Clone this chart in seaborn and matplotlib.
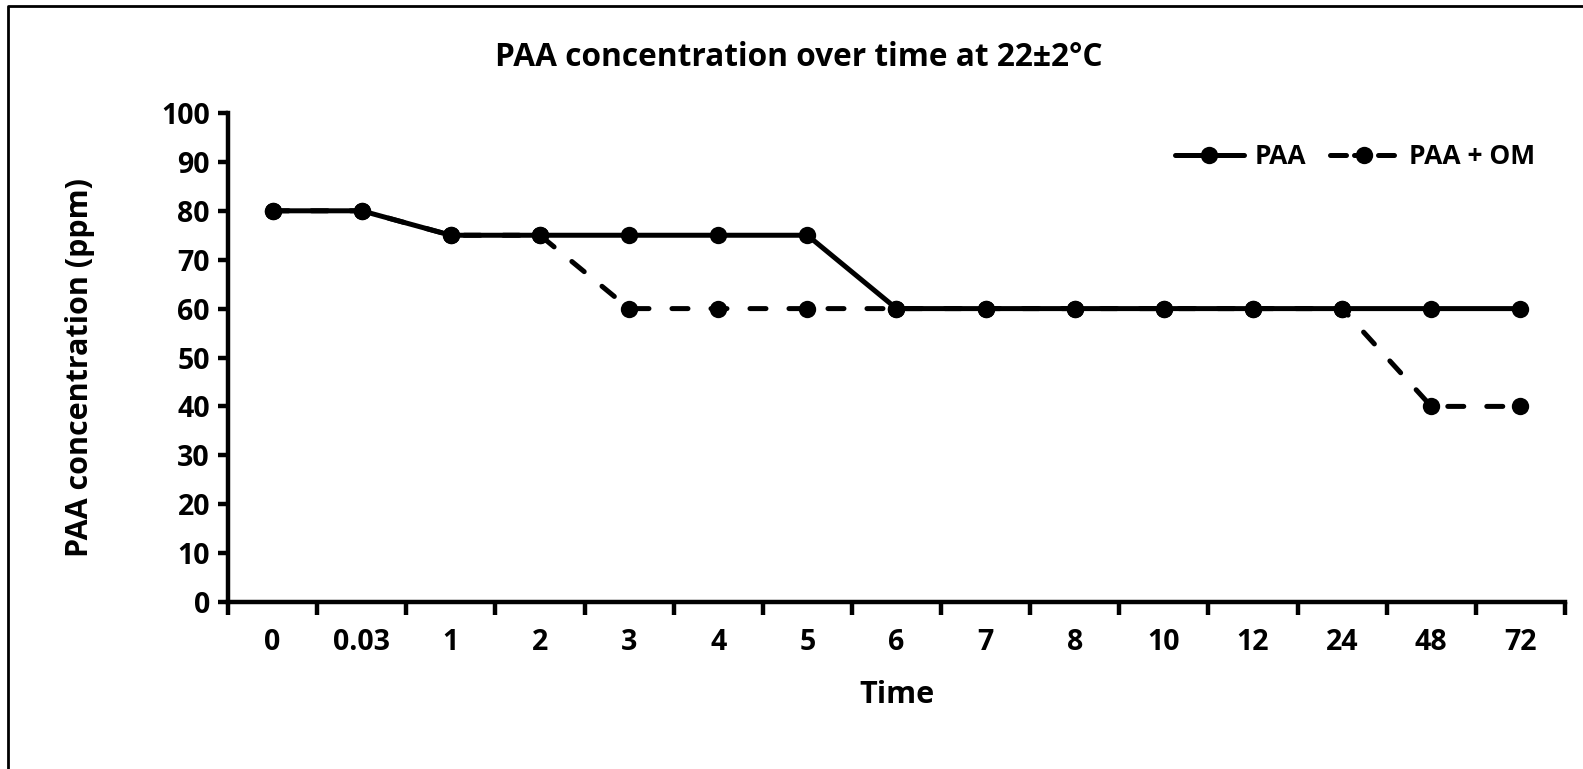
import matplotlib
matplotlib.use("Agg")
import matplotlib.pyplot as plt
from matplotlib.lines import Line2D
import pandas as pd
import seaborn as sns

# values
times = ["0", "0.03", "1", "2", "3", "4", "5", "6", "7", "8", "10", "12", "24", "48", "72"]
paa = [80, 80, 75, 75, 75, 75, 75, 60, 60, 60, 60, 60, 60, 60, 60]
paa_om = [80, 80, 75, 75, 60, 60, 60, 60, 60, 60, 60, 60, 60, 40, 40]

df = pd.DataFrame({"pos": range(len(times)), "PAA": paa, "PAA + OM": paa_om})

sns.set_style("white")
plt.rcParams["font.family"] = ["Open Sans", "DejaVu Sans"]
plt.rcParams["font.weight"] = "bold"
for k in ["text.color", "axes.labelcolor", "xtick.color", "ytick.color"]:
    plt.rcParams[k] = "black"

fig = plt.figure(figsize=(15.83, 7.69), dpi=100)
ax = fig.add_axes([228 / 1583, 1 - 602 / 769, (1565 - 228) / 1583, (602 - 113) / 769])

lw = 3.6
ms = 12.5
sns.lineplot(data=df, x="pos", y="PAA + OM", ax=ax, color="black", lw=lw,
             marker="o", markersize=ms, markeredgewidth=0,
             dashes=False, linestyle=(0, (3.2, 4.6)), dash_capstyle="round")
sns.lineplot(data=df, x="pos", y="PAA", ax=ax, color="black", lw=lw,
             marker="o", markersize=ms, markeredgewidth=0)

ax.set_xlim(-0.5, len(times) - 0.5)
ax.set_ylim(0, 100)
ax.set_yticks(range(0, 101, 10))
ax.set_xticks([i - 0.5 for i in range(len(times) + 1)])
ax.set_xticklabels([])
ax.set_xticks(range(len(times)), minor=True)
ax.set_xticklabels(times, minor=True)

for s in ["top", "right"]:
    ax.spines[s].set_visible(False)
for s in ["left", "bottom"]:
    ax.spines[s].set_linewidth(3.2)
    ax.spines[s].set_color("black")

ax.tick_params(axis="x", which="major", direction="out", length=9, width=3.2, color="black")
ax.tick_params(axis="x", which="minor", length=0, pad=19, labelsize=20.5)
ax.tick_params(axis="y", direction="out", length=7, width=3.2, color="black", labelsize=20.5, pad=6)
ax.tick_params(left=True, bottom=True)

ax.set_xlabel("Time", fontsize=22, fontweight="bold", labelpad=16)
ax.set_ylabel("PAA concentration (ppm)", fontsize=22, fontweight="bold")
ax.yaxis.set_label_coords(-0.0995, 0.48)

fig.text(799 / 1583, 1 - 58 / 769, "PAA concentration over time at 22\u00b12\u00b0C",
         ha="center", va="center", fontsize=22.8, fontweight="bold")

handles = [
    Line2D([], [], color="black", lw=lw, marker="o", markersize=ms, markeredgewidth=0),
    Line2D([], [], color="black", lw=lw, marker="o", markersize=ms, markeredgewidth=0,
           linestyle=(0, (3.2, 1.6)), dash_capstyle="round"),
]
fig.legend(handles, ["PAA", "PAA + OM"], loc="center right",
           bbox_to_anchor=(1535 / 1583, 1 - 157 / 769), ncol=2, frameon=False,
           fontsize=19, handlelength=2.6, handletextpad=0.4, columnspacing=0.9,
           borderpad=0, borderaxespad=0)

# outer chart border (top and left visible in the reference)
fig.add_artist(Line2D([8 / 1583, 8 / 1583, 1], [0, 1 - 6 / 769, 1 - 6 / 769],
                      transform=fig.transFigure, color="black", lw=2))

fig.savefig("out.png", dpi=100)
